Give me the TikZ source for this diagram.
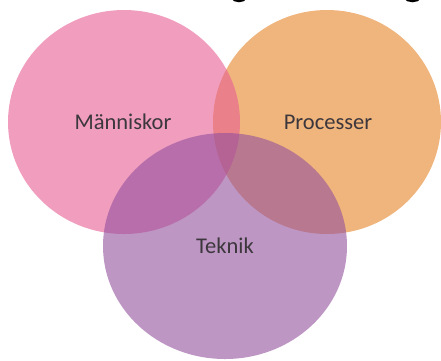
\documentclass[tikz,border=0pt]{standalone}
\usepackage{fontspec}
\setmainfont{Carlito}
\definecolor{pinkc}{RGB}{230,93,147}
\definecolor{orangec}{RGB}{231,132,38}
\definecolor{purplec}{RGB}{147,80,157}
\definecolor{textc}{RGB}{60,55,60}
\tikzset{
  blob/.style={fill opacity=0.6, draw=none},
  lbl/.style={text=textc, font=\fontsize{22.5}{26}\selectfont, inner sep=0pt}
}
\begin{document}
\begin{tikzpicture}[x=1pt,y=-1pt]
\useasboundingbox (0,0) rectangle (441,360);
\clip (0,0) rectangle (441,360);
\fill[white] (0,0) rectangle (441,360);
\fill[orangec, blob] (327,122) ellipse (114 and 112);
\fill[pinkc, blob] (124,122) ellipse (116 and 112);
\fill[purplec, blob] (225,246) ellipse (122 and 113);
\node[lbl] (m) at (123,122) {Människor};
\node[lbl] (p) at (328,122) {Processer};
\node[lbl] (t) at (225,246) {Teknik};
\draw[black, line width=3pt] (232,-3) .. controls (234,2) and (244,2) .. (246,-3);
\draw[black, line width=3pt] (405,-3) .. controls (407,2) and (418,2) .. (420,-3);
\end{tikzpicture}
\end{document}
